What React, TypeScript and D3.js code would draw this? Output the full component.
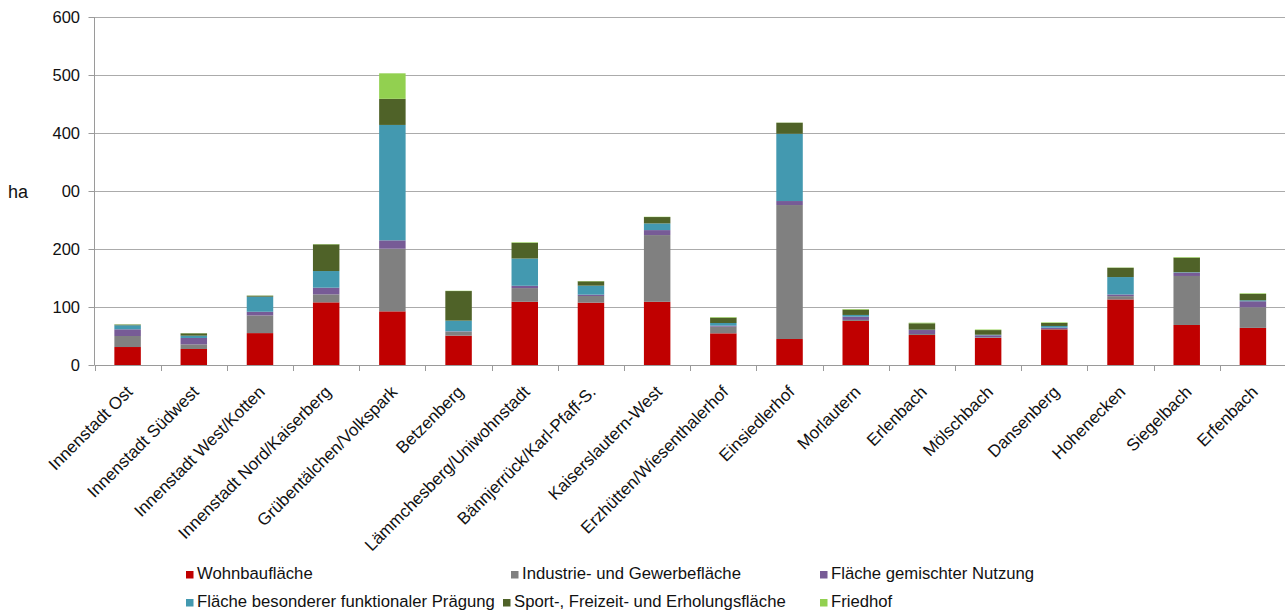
import { useRef, useEffect } from 'react';
import * as d3 from 'd3';

const categories = [
  'Innenstadt Ost',
  'Innenstadt Südwest',
  'Innenstadt West/Kotten',
  'Innenstadt Nord/Kaiserberg',
  'Grübentälchen/Volkspark',
  'Betzenberg',
  'Lämmchesberg/Uniwohnstadt',
  'Bännjerrück/Karl-Pfaff-S.',
  'Kaiserslautern-West',
  'Erzhütten/Wiesenthalerhof',
  'Einsiedlerhof',
  'Morlautern',
  'Erlenbach',
  'Mölschbach',
  'Dansenberg',
  'Hohenecken',
  'Siegelbach',
  'Erfenbach',
];

const wohnbauflaeche = [31, 27.6, 55, 108, 92.5, 50.6, 109, 107.5, 109, 54.6, 44.8, 76, 51.7, 46.6, 61.5, 113, 69, 64];
const industrieflaeche = [19, 8, 30.5, 13.8, 108, 6.9, 23.6, 11.5, 115, 11.5, 231, 1.7, 1.7, 1.2, 0.6, 5.7, 84.5, 35.6];
const gemischteNutzung = [11.5, 11, 6.3, 11.5, 14.4, 0.6, 4, 2.3, 8.6, 1.7, 6.9, 5.7, 6.9, 3.4, 2.3, 2.9, 5.7, 10.3];
const besonderePraegung = [7, 4, 26, 28.7, 199, 18.4, 47, 15.5, 11.5, 4.6, 116, 2.9, 0.6, 1, 2.9, 30, 0.8, 1.7];
const sportFreizeit = [1.2, 4, 1.7, 46, 45, 51, 27, 7.5, 11, 9.2, 19, 9.2, 11, 8, 5.2, 16, 25, 11];
const friedhof = [0.4, 0.3, 0.3, 0.5, 44, 0.5, 1, 0.5, 0.5, 1, 0.3, 1, 1, 1, 1, 0.5, 1, 1];

const seriesNames = [
  'Wohnbaufläche',
  'Industrie- und Gewerbefläche',
  'Fläche gemischter Nutzung',
  'Fläche besonderer funktionaler Prägung',
  'Sport-, Freizeit- und Erholungsfläche',
  'Friedhof',
];
const seriesValues = [wohnbauflaeche, industrieflaeche, gemischteNutzung, besonderePraegung, sportFreizeit, friedhof];
const seriesColors = ['#C00000', '#808080', '#775B96', '#4399B0', '#4F6228', '#92D050'];

const yTicks = [0, 100, 200, 300, 400, 500, 600];

const FONT = '"Liberation Sans", Arial, sans-serif';

export default function App() {
  const ref = useRef<SVGSVGElement>(null);

  useEffect(() => {
    if (!ref.current) return;
    drawChart(ref.current);
  }, []);

  return (
    <svg
      ref={ref}
      width={1285}
      height={615}
      style={{ position: 'absolute', left: 0, top: 0, background: '#fff' }}
    />
  );
}

function drawChart(svgElement: SVGSVGElement) {
  const left = 94.5;
  const right = 1286;
  const top = 17;
  const bottom = 365;

  const svg = d3.select(svgElement);
  svg.selectAll('*').remove();

  const rows = categories.map((c, i) => {
    const row: Record<string, any> = { category: c };
    seriesNames.forEach((s, j) => (row[s] = seriesValues[j][i]));
    return row;
  });

  const stacked = d3.stack<Record<string, any>>().keys(seriesNames)(rows);

  const x = d3.scaleBand()
    .domain(categories)
    .range([left, right])
    .paddingInner(0.6)
    .paddingOuter(0.3);

  const y = d3.scaleLinear().domain([0, 600]).range([bottom, top]);

  // gridlines
  svg.append('g')
    .selectAll('line')
    .data(yTicks.filter((t) => t > 0))
    .enter()
    .append('line')
    .attr('x1', left)
    .attr('x2', 1285)
    .attr('y1', (d) => Math.round(y(d)) + 0.5)
    .attr('y2', (d) => Math.round(y(d)) + 0.5)
    .attr('stroke', '#ababab')
    .attr('stroke-width', 1);

  // bars
  svg.append('g')
    .selectAll('g')
    .data(stacked)
    .enter()
    .append('g')
    .attr('fill', (_, i) => seriesColors[i])
    .selectAll('rect')
    .data((d) => d)
    .enter()
    .append('rect')
    .attr('x', (d) => x(d.data.category)!)
    .attr('width', x.bandwidth())
    .attr('y', (d) => y(d[1]))
    .attr('height', (d) => y(d[0]) - y(d[1]));

  // y axis
  const yAxis = svg.append('g');
  yAxis.append('line')
    .attr('x1', left).attr('x2', left)
    .attr('y1', top).attr('y2', bottom)
    .attr('stroke', '#9a9a9a');
  yAxis.selectAll('line.tick')
    .data(yTicks)
    .enter()
    .append('line')
    .attr('class', 'tick')
    .attr('x1', left - 6).attr('x2', left)
    .attr('y1', (d) => Math.round(y(d)) + 0.5)
    .attr('y2', (d) => Math.round(y(d)) + 0.5)
    .attr('stroke', '#9a9a9a');
  yAxis.selectAll('text')
    .data(yTicks)
    .enter()
    .append('text')
    .attr('x', 80)
    .attr('y', (d) => y(d))
    .attr('dy', '0.36em')
    .attr('text-anchor', 'end')
    .style('font-family', FONT)
    .style('font-size', '16.5px')
    .style('fill', '#111')
    .text((d) => String(d));

  // axis title box (covers part of a tick label like in the original)
  svg.append('rect')
    .attr('x', 0).attr('y', 178)
    .attr('width', 62).attr('height', 28)
    .attr('fill', '#fff');
  svg.append('text')
    .attr('x', 8)
    .attr('y', 192)
    .attr('dy', '0.36em')
    .style('font-family', FONT)
    .style('font-size', '18px')
    .style('fill', '#111')
    .text('ha');

  // x axis
  const step = x.step();
  const bounds = categories.map((c) => x(c)! - step * 0.3).concat([right]);
  const xAxis = svg.append('g');
  xAxis.append('line')
    .attr('x1', left).attr('x2', 1285)
    .attr('y1', bottom + 0.5).attr('y2', bottom + 0.5)
    .attr('stroke', '#9a9a9a');
  xAxis.selectAll('line.tick')
    .data(bounds)
    .enter()
    .append('line')
    .attr('class', 'tick')
    .attr('x1', (d) => Math.round(d) + 0.5)
    .attr('x2', (d) => Math.round(d) + 0.5)
    .attr('y1', bottom)
    .attr('y2', bottom + 6)
    .attr('stroke', '#9a9a9a');
  xAxis.selectAll('text')
    .data(categories)
    .enter()
    .append('text')
    .attr('transform', (d) => `translate(${x(d)! + x.bandwidth() / 2 + 6},${393}) rotate(-45)`)
    .attr('text-anchor', 'end')
    .style('font-family', FONT)
    .style('font-size', '17px')
    .style('fill', '#111')
    .text((d) => d);

  // legend
  const legendPos = [
    [186, 579],
    [511, 579],
    [820, 579],
    [186, 607],
    [503, 607],
    [820, 607],
  ];
  const legend = svg.append('g')
    .selectAll('g')
    .data(seriesNames)
    .enter()
    .append('g')
    .attr('transform', (_, i) => `translate(${legendPos[i][0]},${legendPos[i][1]})`);
  legend.append('rect')
    .attr('x', 0).attr('y', -8)
    .attr('width', 7.5).attr('height', 7.5)
    .attr('fill', (_, i) => seriesColors[i]);
  legend.append('text')
    .attr('x', 11)
    .attr('y', 0)
    .style('font-family', FONT)
    .style('font-size', '16.7px')
    .style('fill', '#111')
    .text((d) => d);
}
